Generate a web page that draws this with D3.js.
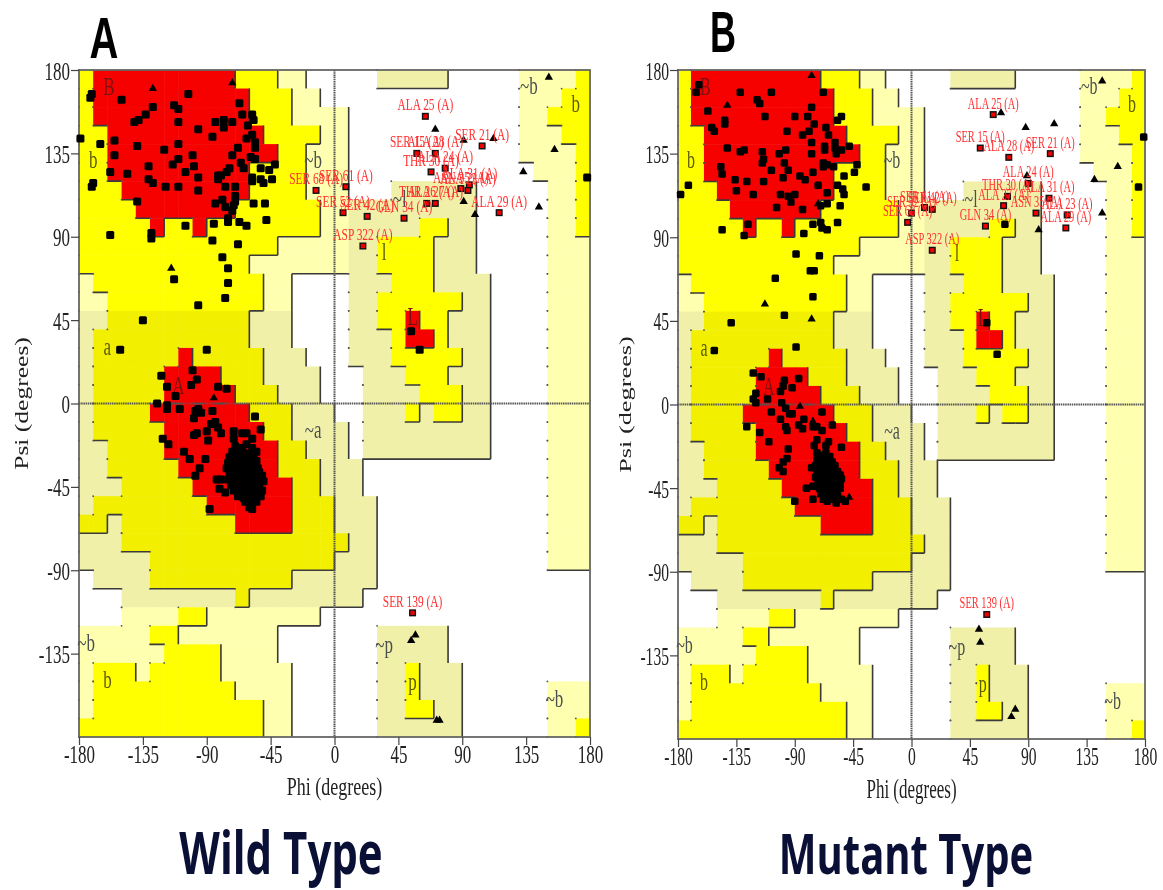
<!DOCTYPE html>
<html>
<head>
<meta charset="utf-8">
<script src="https://cdnjs.cloudflare.com/ajax/libs/d3/7.8.5/d3.min.js"></script>
<style>
  body { margin: 0; background: #fff; }
  svg { display: block; filter: blur(0.4px); }
  text { font-family: "Liberation Serif", serif; }
</style>
</head>
<body>
<div class="canvas"></div>
<script>
// ramachandran region map, one string per 10 degree row from psi 180 down to -180
// . disallowed, r core, b/a allowed, h/g generous
const regionRows = [
  "brrrrrrrrrrbbbhh.....ggggg.....hhhhb",
  "brrrrrrrrrrrbbbhh..............hhhbb",
  "brrrrrrrrrrrbbbhhhh............hhbbb",
  "bbrrrrrrrrrrrbbbbhh............hhhbb",
  "bbrrrrrrrrrrrrbbhhh............hhhhb",
  "bbrrrrrrrrrrbbbbhhh.............hhhb",
  "bbbrrrrrrrrrbbbbhhh...gggggg.....hhb",
  "bbbbrrrrrrrbbbbbbhhggggggggg.....hhb",
  "bbbbbrbbrbbbbbbbbhhgggggbbgg.....hhb",
  "bbbbbbbbbbbbbbhhhhhggbbbbggg.....hhh",
  "bbbbbbbbbbbbhhhhhhhggbbbbggg.....hhh",
  "hbbbbbbbbbbbbhh....gggbbbgggg....hhh",
  "hhbbbbbbbbbbbhh....ggbbbbbbgg....hhh",
  "ggaaaaaaaaaaggg....ggbbrbbggg....hhh",
  "gaaaaaaaaaaaggg....gggbrrbggg....hhh",
  "gaaaaaaraaaaaggg...gggbbbbbgg....hhh",
  "gaaaaarrrraaagggg...gggbbbggg....hhh",
  "gaaaaarrrrraaaggg...ggggbbbgg....hhh",
  "gaaaarrrrrrraaaggg..gggbgbbgg....hhh",
  "gaaaaarrrrrrraagggg.ggggggggg....hhh",
  "ggaaaarrrrrrrraaggg.ggggggggg....hhh",
  "ggaaaaarrrrrrraaaggg.............hhh",
  "gggaaaaarrrrrrraaggg.............hhh",
  "gaaaaaaaarrrrrraaaggg............hhh",
  "aagaaaaaaaarrrraaaggg............hhh",
  "gggaaaaaaaaaaaaaaaagg............hhh",
  "gggggaaaaaaaaaaaaaggg............hhh",
  ".ggggaaaaaaaaaagggggg...............",
  "...ggggggggagggggggg................",
  "...hhhhbbhhhhhhhh...................",
  "hhhhhbbhhhhhhh.......ggggg..........",
  "hhhhhhbbbbhhhh.......ggggg..........",
  "hbbbhbbbbbhhhhh......ggbggg.........",
  "hbbbbbbbbbbhhhh......ggbggg......hhh",
  "hbbbbbbbbbbbbhh......ggbbgg......hhh",
  "bbbbbbbbbbbbbhh......gggggg......hhb"
];
const regionColors = { r: "#f60000", b: "#ffff00", a: "#f2f000", h: "#ffffb0", g: "#f0f0a8" };
const regionRanks = { ".": 0, h: 1, g: 1, b: 2, a: 2, r: 3 };

const phiTicks = [-180, -135, -90, -45, 0, 45, 90, 135, 180];
const psiTicks = [-135, -90, -45, 0, 45, 90, 135, 180];

// letter, phi, psi
const regionLabels = [
  ["B", -159, 169], ["b", -170, 130], ["a", -160, 29], ["A", -110, 8],
  ["~b", -15, 130], ["~a", -15, -16], ["l", 35, 80], ["L", 55, 45],
  ["~l", 46, 109], ["b", 170, 160], ["~b", 137, 170], ["~b", -175, -131],
  ["b", -160, -151], ["~p", 35, -132], ["p", 55, -152], ["~b", 155, -161]
];

const wildSquares = [
  [-171, 167], [-172, 165], [-179, 143], [-165, 140], [-170, 119], [-171, 117], [-150, 164], [-155, 142],
  [-155, 134], [-158, 125], [-146, 124], [-141, 152], [-138, 153], [-133, 156], [-128, 160], [-139, 139],
  [-139, 109], [-131, 128], [-131, 121], [-128, 119], [-120, 137], [-113, 161], [-110, 159], [-110, 152],
  [-103, 167], [-110, 140], [-110, 132], [-114, 129], [-119, 117], [-110, 117], [-105, 125], [-100, 134],
  [-99, 128], [-96, 122], [-96, 115], [-96, 148], [-86, 144], [-84, 152], [-78, 153], [-78, 149],
  [-72, 152], [-67, 162], [-65, 156], [-61, 150], [-58, 156], [-57, 153], [-62, 143], [-58, 145],
  [-56, 141], [-56, 138], [-68, 138], [-72, 134], [-59, 133], [-56, 132], [-66, 130], [-64, 127],
  [-52, 127], [-46, 126], [-42, 129], [-58, 122], [-52, 121], [-50, 119], [-58, 120], [-44, 121],
  [-74, 127], [-76, 125], [-80, 123], [-82, 121], [-82, 123], [-70, 117], [-77, 117], [-70, 112],
  [-70, 109], [-71, 107], [-79, 110], [-84, 108], [-77, 106], [-72, 104], [-57, 108], [-49, 108],
  [-48, 99], [-75, 98], [-75, 100], [-67, 98], [-62, 96], [-85, 97], [-105, 96], [-158, 91],
  [-129, 92], [-129, 89], [-86, 88], [-68, 86], [-79, 79], [-75, 73], [-75, 65], [-77, 57],
  [-96, 53], [-113, 67], [-135, 45], [-151, 29], [-90, 29], [-122, 15], [-100, 18], [-97, 13],
  [-101, 10], [-118, 9], [-82, 9], [-76, 8], [-112, 4], [-125, 0], [-118, -1], [-118, -3],
  [-109, -3], [-96, -3], [-98, -4], [-94, -5], [-86, -4], [-99, -8], [-56, -7], [-52, -14],
  [-84, -10], [-87, -11], [-82, -13], [-80, -16], [-90, -15], [-97, -16], [-99, -17], [-89, -20],
  [-121, -19], [-117, -22], [-106, -26], [-102, -30], [-91, -30], [-95, -35], [-98, -39], [-83, -41],
  [-80, -41], [-81, -46], [-77, -48], [-88, -57], [-71, -15], [-71, -19], [-65, -16], [-62, -16],
  [-58, -19], [-55, -26],
  [-70, -23], [-66, -24], [-62, -22], [-58, -24], [-72, -26], [-68, -27], [-65, -26], [-61, -27],
  [-57, -28], [-74, -29], [-70, -30], [-66, -29], [-63, -31], [-59, -30], [-55, -31], [-75, -32],
  [-71, -33], [-67, -32], [-64, -34], [-60, -33], [-56, -32], [-54, -35], [-76, -35], [-72, -36],
  [-69, -35], [-65, -37], [-61, -36], [-57, -35], [-53, -37], [-74, -38], [-71, -39], [-67, -38],
  [-63, -40], [-59, -39], [-55, -38], [-51, -39], [-75, -41], [-70, -42], [-66, -41], [-62, -43],
  [-58, -42], [-54, -41], [-50, -42], [-73, -44], [-69, -45], [-65, -44], [-61, -46], [-57, -45],
  [-53, -44], [-71, -47], [-67, -48], [-63, -47], [-59, -49], [-55, -48], [-51, -47], [-68, -50],
  [-64, -51], [-60, -50], [-56, -52], [-52, -50], [-63, -53], [-59, -54], [-55, -53], [-60, -56],
  [-58, -57],
  [178, 122], [54, 39], [60, 29]
];
const wildTriangles = [
  [-128, 170], [-72, 173], [-115, 73], [-85, 3], [151, 176], [71, 148], [91, 142], [112, 143],
  [155, 137], [133, 125], [144, 106], [91, 109], [99, 102], [57, -125], [54, -128], [72, -171], [74, -171]
];
const wildFlagged = [
  ["ALA 25 (A)", 64, 155], ["SER 21 (A)", 104, 139], ["SER 15 (A)", 58, 135], ["ALA 28 (A)", 71, 135],
  ["THR 30 (A)", 68, 125], ["ALA 24 (A)", 78, 127], ["ALA 31 (A)", 95, 118], ["ASN 35 (A)", 89, 116],
  ["ALA 23 (A)", 94, 115], ["ALA 27 (A)", 71, 108], ["THR 26 (A)", 65, 108], ["ALA 29 (A)", 116, 103],
  ["SER 61 (A)", 8, 117], ["SER 68 (A)", -13, 115], ["SER 52 (A)", 6, 103], ["SER 42 (A)", 23, 101],
  ["GLN 34 (A)", 49, 100], ["ASP 322 (A)", 20, 85], ["SER 139 (A)", 55, -113]
];

const mutantSquares = [
  [-166, 168], [-164, 172], [-132, 168], [-119, 164], [-117, 162], [-108, 168], [-157, 158], [-113, 155],
  [-144, 153], [-144, 151], [-154, 149], [-152, 147], [-96, 147], [-90, 155], [-80, 155], [-77, 160],
  [-75, 151], [-79, 147], [-84, 145], [-68, 168], [-57, 153], [-54, 155], [-66, 149], [-64, 145],
  [-142, 138], [-132, 136], [-129, 137], [-115, 136], [-114, 132], [-115, 130], [-102, 135], [-97, 137],
  [-98, 130], [-95, 126], [-99, 122], [-147, 128], [-146, 124], [-136, 121], [-127, 120], [-114, 120],
  [-108, 126], [-135, 115], [-122, 113], [-101, 113], [-95, 112], [-93, 109], [-90, 113], [-104, 106],
  [-84, 105], [-77, 141], [-77, 135], [-67, 139], [-67, 137], [-59, 141], [-59, 138], [-58, 135],
  [-54, 137], [-48, 139], [-76, 125], [-86, 123], [-82, 121], [-72, 118], [-68, 128], [-65, 129],
  [-60, 128], [-68, 130], [-42, 129], [-44, 125], [-52, 123], [-57, 118], [-53, 116], [-52, 113],
  [-35, 117], [-65, 114], [-65, 108], [-55, 107], [-70, 107], [-57, 98], [-70, 98], [-69, 95],
  [-65, 94], [-76, 97], [-83, 92], [-126, 97], [-129, 91], [-146, 94], [-172, 118], [-178, 113],
  [-89, 81], [-71, 80], [-78, 72], [-75, 72], [-105, 68], [-76, 58], [-98, 48], [-139, 44],
  [-89, 31], [-152, 29], [-122, 17], [-116, 15], [-98, 13], [-99, 10], [-87, 14], [-92, 9],
  [-101, 7], [-120, 6], [-122, 3], [-120, 1], [-111, 3], [-100, 1],
  [-127, -12], [-117, -15], [-110, -20], [-108, -4], [-101, -8], [-97, -2], [-94, -5], [-92, -5],
  [-83, -8], [-87, -11], [-84, -13], [-96, -14], [-97, -12], [-76, -12], [-73, -12], [-69, -14],
  [-69, -4], [-61, -11], [-64, -20], [-66, -22], [-73, -19], [-75, -22], [-73, -26], [-54, -23],
  [-95, -24], [-96, -29], [-99, -31], [-102, -34], [-99, -36], [-77, -34], [-81, -45], [-76, -44],
  [-76, -51], [-90, -52],
  [-72, -27], [-69, -28], [-66, -26], [-63, -28], [-73, -30], [-70, -31], [-67, -30], [-64, -32],
  [-61, -31], [-74, -33], [-71, -34], [-68, -33], [-65, -35], [-62, -34], [-59, -33], [-73, -36],
  [-70, -37], [-67, -36], [-64, -38], [-60, -37], [-57, -36], [-55, -38], [-74, -39], [-71, -40],
  [-68, -39], [-65, -41], [-62, -40], [-58, -39], [-54, -40], [-72, -42], [-69, -43], [-66, -42],
  [-63, -44], [-59, -43], [-55, -42], [-71, -45], [-68, -46], [-65, -45], [-62, -47], [-58, -46],
  [-55, -45], [-70, -48], [-66, -49], [-63, -48], [-60, -50], [-57, -49], [-68, -51], [-65, -52],
  [-62, -51], [-58, -53], [-54, -51], [-51, -52],
  [179, 144], [175, 117], [72, 97], [58, 44], [66, 27]
];
const mutantTriangles = [
  [-77, 177], [-142, 161], [-72, 108], [-113, 54], [-77, 46], [-86, -1], [-76, -9], [-48, -50],
  [147, 174], [69, 157], [88, 149], [110, 151], [159, 128], [141, 121], [89, 123], [147, 103],
  [98, 94], [52, -121], [53, -128], [80, -164], [77, -168]
];
const mutantFlagged = [
  ["ALA 25 (A)", 63, 156], ["SER 15 (A)", 53, 138], ["ALA 28 (A)", 75, 133], ["SER 21 (A)", 107, 135],
  ["ALA 24 (A)", 90, 119], ["THR 30 (A)", 74, 112], ["ALA 31 (A)", 106, 111], ["ALA 27 (A)", 71, 107],
  ["ASN 35 (A)", 96, 103], ["ALA 23 (A)", 120, 102], ["ALA 29 (A)", 119, 95], ["GLN 34 (A)", 57, 96],
  ["ASP 322 (A)", 16, 83], ["SER 42 (A)", 16, 105], ["SER 61 (A)", 10, 106], ["SER 52 (A)", 0, 103],
  ["SER 68 (A)", -3, 98], ["SER 139 (A)", 58, -113]
];

// main svg
const svg = d3.select(".canvas").append("svg").attr("width", 1163).attr("height", 890);

function drawPanel(p) {
  const x = d3.scaleLinear().domain([-180, 180]).range([p.left, p.right]);
  const y = d3.scaleLinear().domain([180, -180]).range([p.top, p.bottom]);
  const g = svg.append("g");
  const stretch = (px, py) => `translate(${px}, ${py}) scale(1, ${p.stretch})`;

  // region cells
  const cells = [];
  regionRows.forEach((row, i) => {
    row.split("").forEach((c, j) => {
      if (c !== ".") cells.push({ i, j, c });
    });
  });
  g.selectAll("rect.cell")
    .data(cells)
    .enter()
    .append("rect")
    .attr("class", "cell")
    .attr("x", d => x(-180 + d.j * 10))
    .attr("y", d => y(180 - d.i * 10))
    .attr("width", x(10) - x(0) + 0.5)
    .attr("height", y(0) - y(10) + 0.5)
    .attr("fill", d => regionColors[d.c]);

  // dark edges on right/bottom of a region, small dots on the left side
  const rank = (i, j) => (regionRows[i] && regionRows[i][j] ? regionRanks[regionRows[i][j]] : 0);
  const edges = d3.path();
  const dots = [];
  regionRows.forEach((row, i) => {
    row.split("").forEach((c, j) => {
      const r = rank(i, j);
      const x0 = -180 + j * 10, x1 = x0 + 10, y0 = 180 - i * 10, y1 = y0 - 10;
      if (j < 35 && r > rank(i, j + 1)) {
        edges.moveTo(x(x1), y(y0));
        edges.lineTo(x(x1), y(y1));
      }
      if (i < 35 && r > rank(i + 1, j)) {
        edges.moveTo(x(x0), y(y1));
        edges.lineTo(x(x1), y(y1));
      }
      if (r > rank(i, j - 1)) dots.push([x0, y0], [x0, y1]);
    });
  });
  g.append("path").attr("d", edges.toString()).attr("fill", "none").attr("stroke", "#3a3a3a").attr("stroke-width", 1.6);
  g.selectAll("circle.dot")
    .data(dots)
    .enter()
    .append("circle")
    .attr("class", "dot")
    .attr("cx", d => x(d[0]))
    .attr("cy", d => y(d[1]))
    .attr("r", 0.9)
    .attr("fill", "#555");

  // zero lines
  g.append("line").attr("x1", x(0)).attr("x2", x(0)).attr("y1", p.top).attr("y2", p.bottom)
    .attr("stroke", "#555").attr("stroke-width", 2).attr("stroke-dasharray", "1.5,0.7");
  g.append("line").attr("x1", p.left).attr("x2", p.right).attr("y1", y(0)).attr("y2", y(0))
    .attr("stroke", "#555").attr("stroke-width", 2).attr("stroke-dasharray", "1.5,0.7");

  // frame
  g.append("rect").attr("x", p.left).attr("y", p.top)
    .attr("width", p.right - p.left).attr("height", p.bottom - p.top)
    .attr("fill", "none").attr("stroke", "#666").attr("stroke-width", 1.8);

  // region letters
  g.selectAll("text.region")
    .data(regionLabels)
    .enter()
    .append("text")
    .attr("class", "region")
    .attr("transform", d => stretch(x(d[1]), y(d[2]) + 5))
    .attr("text-anchor", "middle")
    .attr("font-size", p.letterSize)
    .attr("fill", d => (d[0] === "B" || d[0] === "A" || d[0] === "L" ? "#7a1010" : d[0][0] === "~" ? "#4a5050" : "#5c5c00"))
    .text(d => d[0]);

  // residues
  g.selectAll("rect.square")
    .data(p.squares)
    .enter()
    .append("rect")
    .attr("class", "square")
    .attr("x", d => x(d[0]) - p.mark / 2)
    .attr("y", d => y(d[1]) - p.mark / 2)
    .attr("width", p.mark)
    .attr("height", p.mark)
    .attr("rx", 1.5)
    .attr("fill", "#000");
  g.selectAll("path.glycine")
    .data(p.triangles)
    .enter()
    .append("path")
    .attr("class", "glycine")
    .attr("d", d3.symbol(d3.symbolTriangle, 30))
    .attr("transform", d => `translate(${x(d[0])}, ${y(d[1])})`)
    .attr("fill", "#000");
  g.selectAll("rect.flagged")
    .data(p.flagged)
    .enter()
    .append("rect")
    .attr("class", "flagged")
    .attr("x", d => x(d[1]) - 2.8)
    .attr("y", d => y(d[2]) - 2.8)
    .attr("width", 5.6)
    .attr("height", 5.6)
    .attr("fill", "#f00000")
    .attr("stroke", "#111")
    .attr("stroke-width", 1.4);
  g.selectAll("text.residue")
    .data(p.flagged)
    .enter()
    .append("text")
    .attr("class", "residue")
    .attr("transform", d => stretch(x(d[1]), y(d[2]) - 6))
    .attr("text-anchor", "middle")
    .attr("font-size", p.residueSize)
    .attr("fill", "#ff3030")
    .text(d => d[0]);

  // axes
  const xAxis = d3.axisBottom(x).tickValues(phiTicks).tickSize(8).tickSizeOuter(0).tickFormat(d => String(d));
  const yAxis = d3.axisLeft(y).tickValues(psiTicks).tickSize(8).tickSizeOuter(0).tickFormat(d => String(d));
  const gx = g.append("g").attr("transform", `translate(0, ${p.bottom})`).call(xAxis);
  const gy = g.append("g").attr("transform", `translate(${p.left}, 0)`).call(yAxis);
  gx.select(".domain").remove();
  gy.select(".domain").remove();
  g.selectAll(".tick line").attr("stroke", "#444").attr("stroke-width", 1.2);
  gx.selectAll("text")
    .attr("y", 0).attr("dy", 0)
    .attr("transform", `translate(0, 26) scale(1, ${p.stretch})`);
  gy.selectAll("text")
    .attr("x", 0).attr("dy", 0)
    .attr("transform", `translate(-9, 9) scale(1, ${p.stretch})`);
  g.selectAll(".tick text")
    .style("font-family", '"Liberation Serif", serif')
    .attr("font-size", p.tickSize)
    .attr("fill", "#222");

  // axis titles
  g.append("text")
    .attr("transform", stretch(x(0), p.bottom + p.xTitleGap))
    .attr("text-anchor", "middle")
    .attr("font-size", p.titleSize)
    .attr("fill", "#222")
    .text("Phi (degrees)");
  g.append("text")
    .attr("transform", `translate(${p.yTitleX}, ${y(0)}) rotate(-90) scale(${p.stretch}, 1)`)
    .attr("text-anchor", "middle")
    .attr("font-size", p.titleSize)
    .attr("fill", "#222")
    .text("Psi (degrees)");

  // panel letter and caption
  g.append("text")
    .attr("transform", `translate(${p.letterX}, ${p.letterY}) scale(1, ${p.letterStretch})`)
    .attr("text-anchor", "middle")
    .attr("font-size", p.letterFont)
    .style("font-family", '"Liberation Sans", sans-serif')
    .attr("font-weight", 700)
    .attr("fill", "#000")
    .text(p.letter);
  g.append("text")
    .attr("transform", `translate(${p.captionX}, ${p.captionY}) scale(1, 1.4)`)
    .attr("text-anchor", "middle")
    .attr("font-size", p.captionFont)
    .style("font-family", '"Open Sans", sans-serif')
    .attr("font-weight", 700)
    .attr("fill", "#0a1035")
    .text(p.caption);
}

drawPanel({
  left: 79, right: 590, top: 70, bottom: 737, stretch: 1.42,
  tickSize: 17, titleSize: 18, residueSize: 11.4, letterSize: 17, mark: 8,
  xTitleGap: 58, yTitleX: 28,
  letter: "A", letterX: 104, letterY: 58, letterFont: 40, letterStretch: 1.45,
  caption: "Wild Type", captionX: 281, captionY: 874, captionFont: 42,
  squares: wildSquares, triangles: wildTriangles, flagged: wildFlagged
});

drawPanel({
  left: 678, right: 1145, top: 70, bottom: 739, stretch: 1.55,
  tickSize: 15.6, titleSize: 17, residueSize: 10.4, letterSize: 16, mark: 7.5,
  xTitleGap: 59, yTitleX: 631,
  letter: "B", letterX: 723, letterY: 52, letterFont: 36, letterStretch: 1.6,
  caption: "Mutant Type", captionX: 906, captionY: 874, captionFont: 40,
  squares: mutantSquares, triangles: mutantTriangles, flagged: mutantFlagged
});
</script>
</body>
</html>
